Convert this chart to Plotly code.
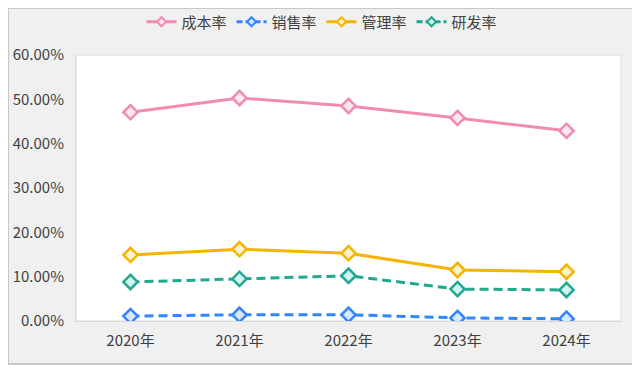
import plotly.graph_objects as go

years = ["2020年", "2021年", "2022年", "2023年", "2024年"]
cost_rate = [0.471, 0.503, 0.485, 0.458, 0.429]
sales_rate = [0.011, 0.014, 0.014, 0.007, 0.005]
mgmt_rate = [0.149, 0.162, 0.153, 0.115, 0.111]
rd_rate = [0.088, 0.095, 0.102, 0.072, 0.070]
y_ticks = [0, 0.1, 0.2, 0.3, 0.4, 0.5, 0.6]

series = [
    ("成本率", cost_rate, "#f08cb4", "#fde8f0", "solid"),
    ("销售率", sales_rate, "#3385ff", "#d9e8ff", "9px,5px"),
    ("管理率", mgmt_rate, "#f5b400", "#fff3cc", "solid"),
    ("研发率", rd_rate, "#21a892", "#d2f4ee", "9px,5px"),
]

FONT = "Noto Sans CJK SC, Noto Sans, sans-serif"

fig = go.Figure()
for name, vals, col, fill, dash in series:
    fig.add_trace(go.Scatter(
        x=years, y=vals, name=name, mode="lines+markers", showlegend=False,
        legendgroup=name,
        line=dict(color=col, width=3, dash=dash),
        marker=dict(symbol="diamond", size=11, color=fill,
                    line=dict(color=col, width=2.5)),
    ))
for name, vals, col, fill, dash in series:
    fig.add_trace(go.Scatter(
        x=[None], y=[None], name=name, mode="lines+markers", showlegend=True,
        legendgroup=name,
        line=dict(color=col, width=3, dash="solid" if dash == "solid" else "6px,3px"),
        marker=dict(symbol="diamond", size=7, color=fill,
                    line=dict(color=col, width=2)),
    ))

# The page body adds an 8px offset; design in screen pixels and shift back.
OFF = 8
W, H = 640, 375
PL, PR, PT, PB = 76, 621, 55, 321  # desired plot area on screen
L = PL - OFF
R = W - (PR - OFF)
T = PT - OFF
B = H - (PB - OFF)
pw, ph = PR - PL, PB - PT

def px(x):
    return (x - PL) / pw

def py(y):
    return (PB - y) / ph

fig.update_layout(
    width=W, height=H,
    margin=dict(l=L, r=R, t=T, b=B, autoexpand=False),
    paper_bgcolor="#f0f0f0",
    plot_bgcolor="white",
    font=dict(family=FONT, size=15, color="#404040"),
    showlegend=True,
    legend=dict(orientation="h", x=px(322), xanchor="center", y=py(22), yanchor="middle",
                font=dict(size=15, color="#404040"), itemwidth=30,
                bgcolor="rgba(0,0,0,0)", tracegroupgap=0),
    shapes=[
        dict(type="rect", xref="paper", yref="paper", x0=px(OFF), x1=px(637), y0=py(364), y1=py(OFF),
             fillcolor="#f0f0f0", line=dict(color="#c8c8c8", width=2), layer="below"),
        dict(type="rect", xref="paper", yref="paper", x0=px(OFF - 8), x1=px(648), y0=py(375 + 8), y1=py(365),
             fillcolor="white", line=dict(width=0), layer="below"),
        dict(type="rect", xref="paper", yref="paper", x0=px(638), x1=px(648), y0=py(375 + 8), y1=py(OFF - 8),
             fillcolor="white", line=dict(width=0), layer="below"),
        dict(type="rect", xref="paper", yref="paper", x0=0, x1=1, y0=0, y1=1,
             fillcolor="white", line=dict(color="#dcdcdc", width=1), layer="below"),
    ],
    xaxis=dict(type="category", range=[-0.5, 4.5], showgrid=False, zeroline=False,
               showline=True, linecolor="#d9d9d9", ticks="", ticklabelstandoff=6,
               automargin=False, tickfont=dict(size=15, color="#404040")),
    yaxis=dict(range=[0, 0.6], tickvals=y_ticks, tickformat=".2%", showgrid=False,
               zeroline=False, showline=True, linecolor="#d9d9d9", ticks="",
               automargin=False, ticklabelstandoff=8, tickfont=dict(size=15, color="#404040")),
)

fig.write_html("out.html")
